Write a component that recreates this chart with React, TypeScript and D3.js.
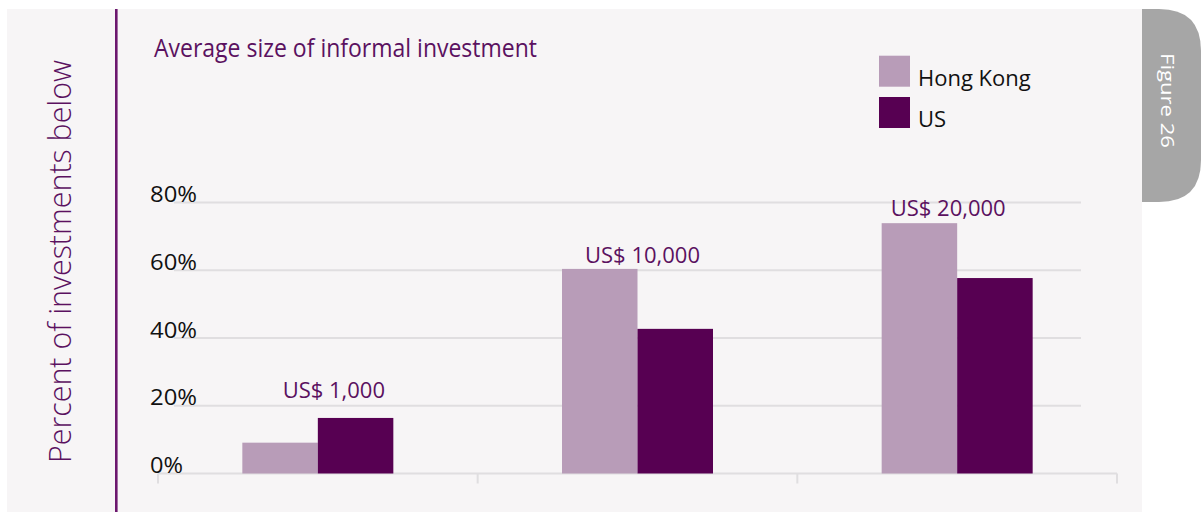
import React from 'react';
import * as d3 from 'd3';

// ---- data ----
const categories = ['US$ 1,000', 'US$ 10,000', 'US$ 20,000'];
const seriesNames = ['Hong Kong', 'US'];
const hongKong = [9.1, 60.4, 73.9];
const us = [16.4, 42.7, 57.7];
const yTicks = [0, 20, 40, 60, 80];
const tickLabels = ['0%', '20%', '40%', '60%', '80%'];

// ---- layout (not data) ----
const W = 1201;
const H = 512;
const FONT = '"Open Sans", "Noto Sans", sans-serif';
const PURPLE_TEXT = '#5b1160';
const COLORS: Record<string, string> = { 'Hong Kong': '#b89cb8', US: '#570052' };
const labelDx = [16, 5, -9];
const labelLift = [20, 6, 7];

export default function App() {
  const x = d3.scaleBand<string>().domain(categories).range([158, 1117]);
  const sub = d3.scaleBand<string>().domain(seriesNames).range([-75.5, 75.5]);
  const y = d3.scaleLinear().domain([0, 80]).range([473.5, 202.5]);
  const values: Record<string, number[]> = { 'Hong Kong': hongKong, US: us };
  const tabR = 42;
  const tabX0 = 1142, tabX1 = 1201, tabY0 = 9, tabY1 = 202;
  const tabPath = `M${tabX0},${tabY0} L${tabX1 - tabR},${tabY0} Q${tabX1},${tabY0} ${tabX1},${tabY0 + tabR} L${tabX1},${tabY1 - tabR} Q${tabX1},${tabY1} ${tabX1 - tabR},${tabY1} L${tabX0},${tabY1} Z`;
  const boundaries = [...categories.map((c) => x(c) as number), 1117];

  return (
    <svg width={W} height={H} style={{ position: 'absolute', left: 0, top: 0, display: 'block' }} fontFamily={FONT}>
      <rect x={0} y={0} width={W} height={H} fill="#ffffff" />
      <rect x={7} y={9} width={1135} height={H - 9} fill="#f7f5f6" />
      <path d={tabPath} fill="#a6a6a6" />
      <text
        transform={`translate(1161,100.5) rotate(90)`}
        textAnchor="middle"
        fontSize={17.5}
        fill="#ffffff"
        textLength={95}
        lengthAdjust="spacingAndGlyphs"
      >
        Figure 26
      </text>

      {/* vertical purple rule */}
      <line x1={116.3} x2={116.3} y1={9} y2={H} stroke="#6c176e" strokeWidth={2.6} />

      {/* y axis title */}
      <text
        transform={`translate(71,261.5) rotate(-90)`}
        textAnchor="middle"
        fontSize={31}
        fontWeight={350}
        fill={PURPLE_TEXT}
        textLength={403}
        lengthAdjust="spacingAndGlyphs"
      >
        Percent of investments below
      </text>

      {/* chart title */}
      <text x={154} y={56.7} fontSize={25.5} fontWeight={400} fill={PURPLE_TEXT} textLength={383} lengthAdjust="spacingAndGlyphs">
        Average size of informal investment
      </text>

      {/* gridlines */}
      {yTicks.map((t) =>
        t === 0 ? (
          <line key={t} x1={158} x2={1117} y1={y(t)} y2={y(t)} stroke="#e0dee0" strokeWidth={2} />
        ) : (
          <line key={t} x1={174} x2={1081} y1={y(t)} y2={y(t)} stroke="#e0dee0" strokeWidth={2} />
        )
      )}
      {boundaries.map((b, i) => (
        <line key={i} x1={b} x2={b} y1={y(0)} y2={483.5} stroke="#e0dee0" strokeWidth={2} />
      ))}

      {/* tick labels */}
      {yTicks.map((t, i) => (
        <text key={t} x={150} y={y(t) - 0.5} fontSize={21.5} fill="#111111" textLength={t === 0 ? 33 : 47} lengthAdjust="spacingAndGlyphs">
          {tickLabels[i]}
        </text>
      ))}

      {/* bars */}
      {seriesNames.map((s) =>
        categories.map((c, i) => {
          const cx = (x(c) as number) + x.bandwidth() / 2;
          const v = values[s][i];
          return (
            <rect
              key={s + c}
              x={cx + (sub(s) as number)}
              y={y(v)}
              width={sub.bandwidth()}
              height={y(0) - y(v)}
              fill={COLORS[s]}
            />
          );
        })
      )}

      {/* category labels */}
      {categories.map((c, i) => {
        const cx = (x(c) as number) + x.bandwidth() / 2;
        const top = y(Math.max(hongKong[i], us[i]));
        return (
          <text key={c} x={cx + labelDx[i]} y={top - labelLift[i]} textAnchor="middle" fontSize={22} fontWeight={500} fill={PURPLE_TEXT}>
            {c}
          </text>
        );
      })}

      {/* legend */}
      {seriesNames.map((s, i) => (
        <g key={s} transform={`translate(879,${55.7 + i * 41.3})`}>
          <rect x={0} y={0} width={31} height={31} fill={COLORS[s]} />
          <text x={39} y={30.3} fontSize={22} fontWeight={500} fill="#111111">
            {s}
          </text>
        </g>
      ))}
    </svg>
  );
}
